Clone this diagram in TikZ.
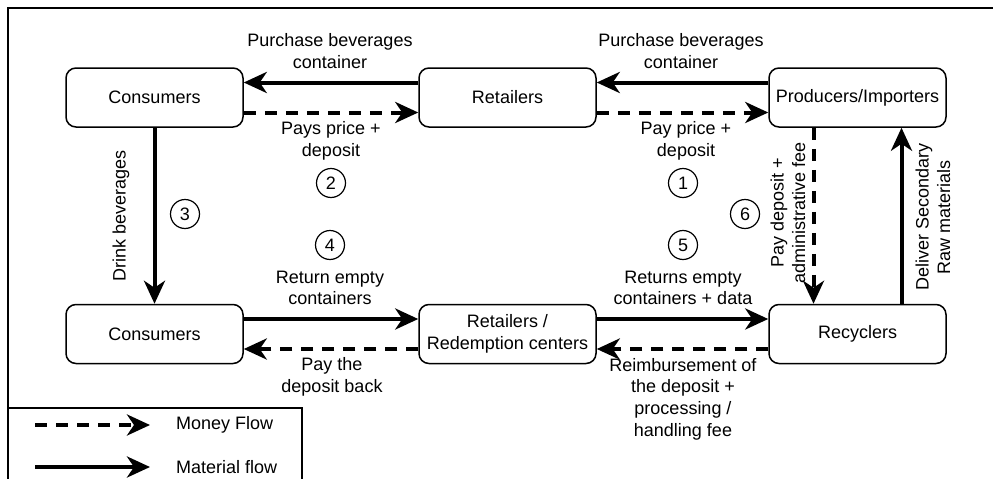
\documentclass[tikz,border=0pt]{standalone}
\usepackage{fontspec}
\setmainfont{Liberation Sans}
\usetikzlibrary{arrows.meta, positioning}

\begin{document}
\begin{tikzpicture}[
            x=1pt, y=-1pt,
            font=\fontsize{18}{21.6}\selectfont,
            box/.style={draw, line width=1.5pt, rounded corners=10pt, minimum width=177pt, minimum height=59pt, inner sep=2pt, align=center},
            num/.style={draw, circle, line width=1.2pt, minimum size=29pt, inner sep=0pt},
            lbl/.style={align=center, inner sep=0pt},
            mat/.style={line width=4pt, -{Stealth[length=23pt, width=21pt, inset=7pt]}},
            money/.style={mat, dash pattern=on 12pt off 9pt}
        ]
            \useasboundingbox (0,0) rectangle (993,479);
            % frame and legend box
            \draw[line width=1.5pt] (8,479) -- (8,8) -- (993,8);
            \draw[line width=1.5pt] (8,408) -- (302,408) -- (302,479);

            \node[box] (cons1) at (154.5,97.5) {Consumers};
            \node[box] (ret1) at (507.5,97.5) {Retailers};
            \node[box] (prod) at (857.5,97.5) {Producers/Importers};
            \node[box] (cons2) at (154.5,334) {Consumers};
            \node[box] (ret2) at (507.5,334) {Retailers /\\Redemption centers};
            \node[box] (recy) at (857.5,334) {Recyclers};

            \draw[mat] ([yshift=15pt]ret1.west) -- ([yshift=15pt]cons1.east);
            \draw[money] ([yshift=-15pt]cons1.east) -- ([yshift=-15pt]ret1.west);
            \draw[mat] ([yshift=15pt]prod.west) -- ([yshift=15pt]ret1.east);
            \draw[money] ([yshift=-15pt]ret1.east) -- ([yshift=-15pt]prod.west);
            \draw[mat] (cons1.south) -- (cons2.north);
            \draw[money] ([xshift=-44pt]prod.south) -- ([xshift=-44pt]recy.north);
            \draw[mat] ([xshift=44pt]recy.north) -- ([xshift=44pt]prod.south);
            \draw[mat] ([yshift=15pt]cons2.east) -- ([yshift=15pt]ret2.west);
            \draw[money] ([yshift=-15pt]ret2.west) -- ([yshift=-15pt]cons2.east);
            \draw[mat] ([yshift=15pt]ret2.east) -- ([yshift=15pt]recy.west);
            \draw[money] ([yshift=-15pt]recy.west) -- ([yshift=-15pt]ret2.east);

            % labels
            \node[lbl] (buyA) at (330,51) {Purchase beverages\\container};
            \node[lbl] (payA) at (331,141) {Pays price +\\deposit};
            \node[lbl] (buyB) at (681,51) {Purchase beverages\\container};
            \node[lbl] (payB) at (686,141) {Pay price +\\deposit};
            \node[lbl, rotate=90] (drink) at (121,216) {Drink beverages};
            \node[lbl, rotate=90] (paydep) at (788,213) {Pay deposit +\\administrative fee};
            \node[lbl, rotate=90] (deliver) at (933,217) {Deliver Secondary\\Raw materials};
            \node[lbl] (retA) at (330,288) {Return empty\\containers};
            \node[lbl] (backA) at (332,377) {Pay the\\deposit back};
            \node[lbl] (retB) at (683,288) {Returns empty\\containers + data};
            \node[lbl] (reimb) at (683,399) {Reimbursement of\\the deposit +\\processing /\\handling fee};

            \node[num] (n1) at (683,183) {1};
            \node[num] (n2) at (331,183) {2};
            \node[num] (n3) at (185,214) {3};
            \node[num] (n4) at (330,245) {4};
            \node[num] (n5) at (683,245) {5};
            \node[num] (n6) at (745,214) {6};

            % legend
            \coordinate (lgm1) at (35,425);
            \coordinate (lgm2) at (150,425);
            \coordinate (lgs1) at (35,467);
            \coordinate (lgs2) at (150,467);
            \draw[money] (lgm1) -- (lgm2);
            \draw[mat] (lgs1) -- (lgs2);
            \node[lbl, anchor=west] (lgmoney) at (176,425) {Money Flow};
            \node[lbl, anchor=west] (lgmat) at (176,467) {Material flow};
        \end{tikzpicture}
\end{document}
